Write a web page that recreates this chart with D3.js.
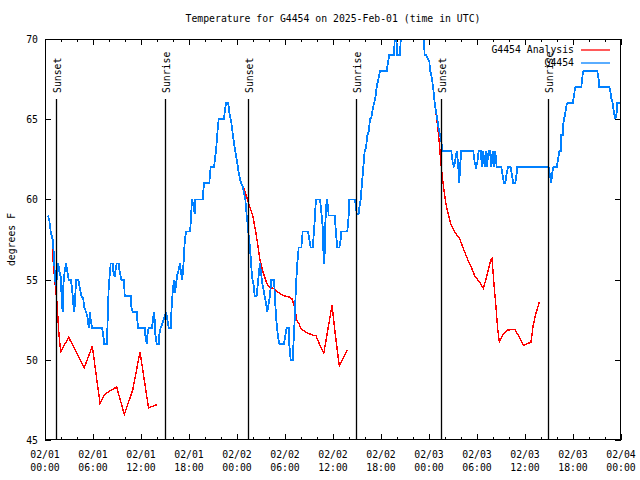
<!DOCTYPE html>
<html>
<head>
<meta charset="utf-8">
<script src="https://cdn.jsdelivr.net/npm/d3@7"></script>
<style>
html, body { margin: 0; padding: 0; background: #fff; }
svg { display: block; }
text { font-family: "DejaVu Sans Mono", "Liberation Mono", monospace; font-size: 9.8px; fill: #000; }
</style>
</head>
<body>
<svg id="chart" width="640" height="480"></svg>
<script>
// ---------- DATA ----------
const chartTitle = "Temperature for G4454 on 2025-Feb-01 (time in UTC)";
const yLabel = "degrees F";
const seriesNames = ["G4454 Analysis", "G4454"];

// x tick positions (hours since 2025-02-01 00:00 UTC) and labels
const xTickHours = [0, 6, 12, 18, 24, 30, 36, 42, 48, 54, 60, 66, 72];
const xTickDates = ["02/01","02/01","02/01","02/01","02/02","02/02","02/02","02/02","02/03","02/03","02/03","02/03","02/04"];
const xTickTimes = ["00:00","06:00","12:00","18:00","00:00","06:00","12:00","18:00","00:00","06:00","12:00","18:00","00:00"];
const yTicks = [45, 50, 55, 60, 65, 70];

// sun events (hours since start)
const sunHours = [1.4, 15.04, 25.41, 38.91, 49.46, 62.91];
const sunLabels = ["Sunset", "Sunrise", "Sunset", "Sunrise", "Sunset", "Sunrise"];

// G4454 Analysis (hours, degF); null marks a gap
const analysisHours = [
  0.91, 1.04, 1.21, 1.375, 1.54, 1.71, 1.96, 2.96, 4.91, 5.91, 6.875, 7.375, 7.91, 8.96, 9.91, 10.96, 11.875, 12.94, 13.96,
  null,
  24.79, 25.04, 25.46, 25.96, 26.375, 26.875, 27.29, 27.71, 27.96, 28.54, 29.04, 29.79, 30.625, 30.875, 31.21, 31.46, 31.79, 32.04, 32.71, 33.625, 33.875, 34.375, 34.85, 35.875, 36.21, 36.46, 36.79, 37.79,
  null,
  48.79, 48.96, 49.125, 49.29, 49.46, 49.625, 49.79, 50.04, 50.29, 50.71, 50.96, 51.375, 51.79, 52.21, 52.71, 53.34, 53.75, 54.375, 54.79, 55.21, 55.71, 55.875, 56.125, 56.375, 56.59, 56.79, 57.21, 57.79, 58.75, 59.29, 59.79, 60.75, 61.04, 61.375, 61.79
];
const analysisTemps = [
  57.0, 56.0, 55.0, 54.2, 53.3, 51.8, 50.5, 51.4, 49.5, 50.85, 47.3, 47.8, 48.0, 48.3, 46.6, 48.1, 50.5, 47.0, 47.2,
  null,
  60.8, 60.4, 59.75, 59.0, 57.9, 56.2, 55.4, 54.8, 54.55, 54.45, 54.25, 54.0, 53.9, 53.8, 53.25, 52.5, 52.2, 51.9, 51.7, 51.5, 51.5, 50.9, 50.4, 53.4, 51.9, 50.9, 49.6, 50.6,
  null,
  65.5, 65.1, 64.3, 63.5, 62.45, 61.6, 60.9, 59.95, 59.3, 58.5, 58.2, 57.85, 57.6, 57.05, 56.4, 55.7, 55.2, 54.8, 54.45, 55.2, 56.2, 56.3, 54.7, 53.3, 51.9, 51.1, 51.55, 51.85, 51.9, 51.4, 50.9, 51.1, 52.2, 52.9, 53.6
];

// G4454 observations (hours, degF)
const obsHours = [
  0.375, 0.54, 0.71, 0.96, 1.125, 1.25, 1.375, 1.66, 1.79, 1.96, 2.125, 2.21, 2.29, 2.375, 2.625, 2.79, 2.96, 3.21, 3.375, 3.54,
  3.625, 3.75, 3.875, 4.16, 4.375, 4.54, 4.79, 4.875, 5.125, 5.375, 5.46, 5.54, 5.625, 5.71, 5.875, 7.125, 7.29, 7.41, 7.71, 7.79,
  7.875, 7.96, 8.125, 8.21, 8.46, 8.54, 8.71, 8.875, 8.96, 9.21, 9.29, 9.54, 9.875, 9.96, 10.71, 10.79, 10.96, 11.46, 11.54, 11.625,
  12.46, 12.54, 12.71, 12.79, 12.96, 13.375, 13.54, 13.625, 13.71, 13.79, 13.96, 14.21, 14.29, 14.46, 14.71, 14.96, 15.125, 15.29, 15.46, 15.71,
  15.84, 15.96, 16.125, 16.25, 16.375, 16.54, 16.71, 16.875, 17.04, 17.16, 17.29, 17.46, 17.625, 18.125, 18.21, 18.375, 18.54, 18.71, 18.79, 19.71,
  19.875, 20.54, 20.625, 20.71, 21.125, 21.29, 21.375, 21.54, 21.71, 22.375, 22.46, 22.625, 22.91, 23.04, 23.21, 23.29, 23.54, 23.79, 23.96, 24.21,
  24.46, 24.71, 24.79, 25.04, 25.21, 25.375, 25.46, 25.625, 25.875, 26.125, 26.21, 26.46, 26.71, 26.875, 27.125, 27.375, 27.625, 27.79, 27.96, 28.125,
  28.29, 28.625, 28.875, 29.125, 29.29, 29.875, 30.04, 30.21, 30.46, 30.54, 30.71, 30.96, 31.21, 31.375, 31.54, 31.71, 32.04, 32.21, 32.875, 33.04,
  33.21, 33.46, 33.625, 33.71, 33.875, 34.375, 34.54, 34.71, 34.79, 34.875, 34.96, 35.04, 35.21, 35.375, 35.46, 36.21, 36.375, 36.54, 36.79, 36.96,
  37.04, 37.79, 37.96, 38.04, 38.71, 38.875, 38.96, 39.21, 39.29, 39.46, 39.625, 39.79, 39.96, 40.125, 40.29, 40.46, 40.625, 40.79, 40.875, 41.125,
  41.29, 41.46, 41.71, 41.875, 42.71, 42.79, 43.04, 43.625, 43.81, 44.04, 44.375, 44.56, 47.25, 47.46, 47.625, 48.04, 48.125, 48.375, 48.54, 48.71,
  48.875, 49.04, 49.21, 49.375, 49.54, 49.71, 50.79, 50.96, 51.125, 51.29, 51.46, 51.625, 51.79, 51.875, 52.04, 53.54, 53.71, 53.875, 54.04, 54.21,
  54.46, 54.625, 54.79, 54.96, 55.125, 55.21, 55.46, 55.625, 55.79, 55.96, 56.125, 56.29, 56.46, 57.04, 57.21, 57.375, 57.54, 57.71, 57.875, 58.21,
  58.375, 58.54, 58.79, 58.96, 59.04, 62.96, 63.125, 63.29, 63.375, 63.54, 63.96, 64.125, 64.29, 64.46, 64.54, 64.71, 64.79, 64.96, 65.21, 65.29,
  65.96, 66.125, 66.29, 67.04, 67.21, 67.29, 69.04, 69.21, 69.29, 70.54, 70.71, 70.79, 70.96, 71.125, 71.29, 71.46, 71.54, 72.0
];
const obsTemps = [
  59, 58.7, 58, 57.5, 56.5, 55, 54.6, 56, 55.5, 55.2, 53.5, 53, 54.6, 55.2, 56, 55.5, 55, 55, 54.5, 53.5,
  53, 53.5, 55, 55, 54.4, 54, 53.8, 53.3, 53, 52.5, 52, 52.5, 53, 52.5, 52, 52, 51.5, 51, 51, 51.75,
  53.2, 54.5, 55.5, 56, 56, 55.5, 55.2, 55.8, 56, 56, 55.6, 55, 55, 54, 54, 53.3, 53, 53, 52.5, 52,
  52, 51.5, 51, 51.5, 52, 52, 52.7, 53, 52.5, 51.6, 51, 51, 51.6, 52, 52.3, 52.7, 53, 52.5, 52, 52,
  53.4, 54.2, 55, 54.2, 54.7, 55.3, 55.6, 56, 55.3, 55, 55.8, 57.3, 58, 58, 58.5, 60, 59.6, 59.1, 60, 60,
  61, 61, 61.6, 62, 62, 62.7, 63, 64.1, 65, 65, 65.4, 66, 66, 65.4, 65, 64.8, 63.8, 63, 62.5, 61.7,
  61.1, 60.8, 60.6, 60, 59, 58.3, 57.7, 57, 55.2, 54.5, 54, 54, 55.3, 56, 54.9, 54.2, 53.5, 53, 53.5, 54,
  55, 55, 52.7, 51.4, 51, 51, 51.5, 52, 52, 50.9, 50, 50, 52.5, 54.7, 56, 57, 57, 58, 58, 57.5,
  57, 57, 58, 58.7, 60, 60, 59.2, 58.3, 56.9, 56, 56.7, 58.5, 60, 59.6, 59, 59, 57.9, 57, 57, 57.5,
  58, 58, 59, 60, 60, 59.6, 59.1, 59.1, 59.5, 60, 61, 62, 63, 63.2, 64, 64.2, 65, 65.1, 65.4, 66,
  66.3, 67, 67.6, 68, 68, 68.3, 69, 69, 71, 69, 69, 71, 71, 69, 69, 68.6, 68.1, 67.5, 66.9, 66,
  65.5, 65, 64.4, 64, 63.6, 63, 63, 62.3, 62, 62.5, 63, 62.3, 61, 62, 63, 63, 62.3, 62, 62.3, 63,
  63, 62, 63, 62, 63, 62, 63, 63, 62, 63, 62, 63, 62, 62, 61.5, 61, 61, 61.6, 62, 62,
  61.5, 61, 61, 61.6, 62, 62, 61.5, 61, 61.6, 62, 62, 62.5, 63, 63, 64, 64, 64.7, 65.2, 65.9, 66,
  66, 66.5, 67, 67, 67.8, 68, 68, 67.5, 67, 67, 66.6, 66.3, 66, 65.4, 65, 65.4, 66, 66
];

// ---------- CHART ----------
const W = 640, H = 480;
const m = { left: 45, right: 19, top: 39, bottom: 40 };
const svg = d3.select("#chart");
const x = d3.scaleLinear().domain([0, 72]).range([m.left, W - m.right]);
const y = d3.scaleLinear().domain([45, 70]).range([H - m.bottom, m.top]);

svg.append("rect").attr("width", W).attr("height", H).attr("fill", "#fff");

svg.append("defs").append("clipPath").attr("id", "plotclip")
  .append("rect").attr("x", m.left).attr("y", m.top)
  .attr("width", W - m.left - m.right).attr("height", H - m.top - m.bottom);

// title
svg.append("text").attr("x", (m.left + W - m.right) / 2).attr("y", 22)
  .attr("text-anchor", "middle").text(chartTitle);

// y label
svg.append("text").attr("transform", `translate(15,${(m.top + H - m.bottom) / 2}) rotate(-90)`)
  .attr("text-anchor", "middle").text(yLabel);

// axes ticks
const axG = svg.append("g").attr("shape-rendering", "crispEdges");
function styleAxis(g) { g.select(".domain").remove(); g.selectAll("line").attr("stroke", "#000"); g.selectAll("text").remove(); }
axG.append("g").attr("transform", `translate(0,${H - m.bottom})`)
  .call(d3.axisBottom(x).tickValues(d3.range(0, 73, 2)).tickSize(-3)).call(styleAxis);
axG.append("g").attr("transform", `translate(0,${H - m.bottom})`)
  .call(d3.axisBottom(x).tickValues(xTickHours).tickSize(-6)).call(styleAxis);
axG.append("g").attr("transform", `translate(0,${m.top})`)
  .call(d3.axisTop(x).tickValues(d3.range(0, 73, 2)).tickSize(-3)).call(styleAxis);
axG.append("g").attr("transform", `translate(0,${m.top})`)
  .call(d3.axisTop(x).tickValues(xTickHours).tickSize(-6)).call(styleAxis);
axG.append("g").attr("transform", `translate(${m.left},0)`)
  .call(d3.axisLeft(y).tickValues(yTicks).tickSize(-6)).call(styleAxis);
axG.append("g").attr("transform", `translate(${W - m.right},0)`)
  .call(d3.axisRight(y).tickValues(yTicks).tickSize(-6)).call(styleAxis);

// y tick labels
svg.append("g").selectAll("text").data(yTicks).join("text")
  .attr("x", m.left - 7).attr("y", d => y(d) + 4)
  .attr("text-anchor", "end").text(d => d);

// x tick labels (two lines)
const xl = svg.append("g").selectAll("text").data(xTickHours).join("text")
  .attr("text-anchor", "middle");
xl.append("tspan").attr("x", d => x(d)).attr("y", 458).text((d, i) => xTickDates[i]);
xl.append("tspan").attr("x", d => x(d)).attr("y", 471).text((d, i) => xTickTimes[i]);

// data
const plot = svg.append("g").attr("clip-path", "url(#plotclip)");
const analysis = analysisHours.map((h, i) => ({ h, v: analysisTemps[i] }));
const obs = obsHours.map((h, i) => ({ h, v: obsTemps[i] }));
const line = d3.line().defined(d => d.h !== null && d.v !== null).x(d => x(d.h)).y(d => y(d.v));

plot.append("path").datum(analysis).attr("d", line)
  .attr("fill", "none").attr("stroke", "#ff0000").attr("stroke-width", 1.4)
  .attr("shape-rendering", "crispEdges");
plot.append("path").datum(obs).attr("d", line)
  .attr("fill", "none").attr("stroke", "#0080ff").attr("stroke-width", 1.8)
  .attr("shape-rendering", "crispEdges");

// sunrise / sunset markers
const sunG = svg.append("g");
sunG.selectAll("line").data(sunHours).join("line")
  .attr("x1", d => Math.round(x(d)) + 0.5).attr("x2", d => Math.round(x(d)) + 0.5)
  .attr("y1", 99).attr("y2", H - m.bottom)
  .attr("stroke", "#000").attr("stroke-width", 1.3);
sunG.selectAll("text").data(sunHours).join("text")
  .attr("transform", d => `translate(${Math.round(x(d)) + 5},93) rotate(-90)`)
  .attr("text-anchor", "start").text((d, i) => sunLabels[i]);

// frame
svg.append("rect").attr("x", m.left + 0.5).attr("y", m.top + 0.5)
  .attr("width", W - m.left - m.right - 1).attr("height", H - m.top - m.bottom - 1)
  .attr("fill", "none").attr("stroke", "#000").attr("stroke-width", 1).attr("shape-rendering", "crispEdges");

// legend
const colors = ["#ff0000", "#0080ff"];
const lg = svg.append("g");
seriesNames.forEach((name, i) => {
  const ly = 50 + i * 13;
  lg.append("text").attr("x", 574).attr("y", ly + 3).attr("text-anchor", "end").text(name);
  lg.append("line").attr("x1", 581).attr("x2", 610).attr("y1", ly).attr("y2", ly)
    .attr("stroke", colors[i]).attr("stroke-width", 1.3);
});
</script>
</body>
</html>
